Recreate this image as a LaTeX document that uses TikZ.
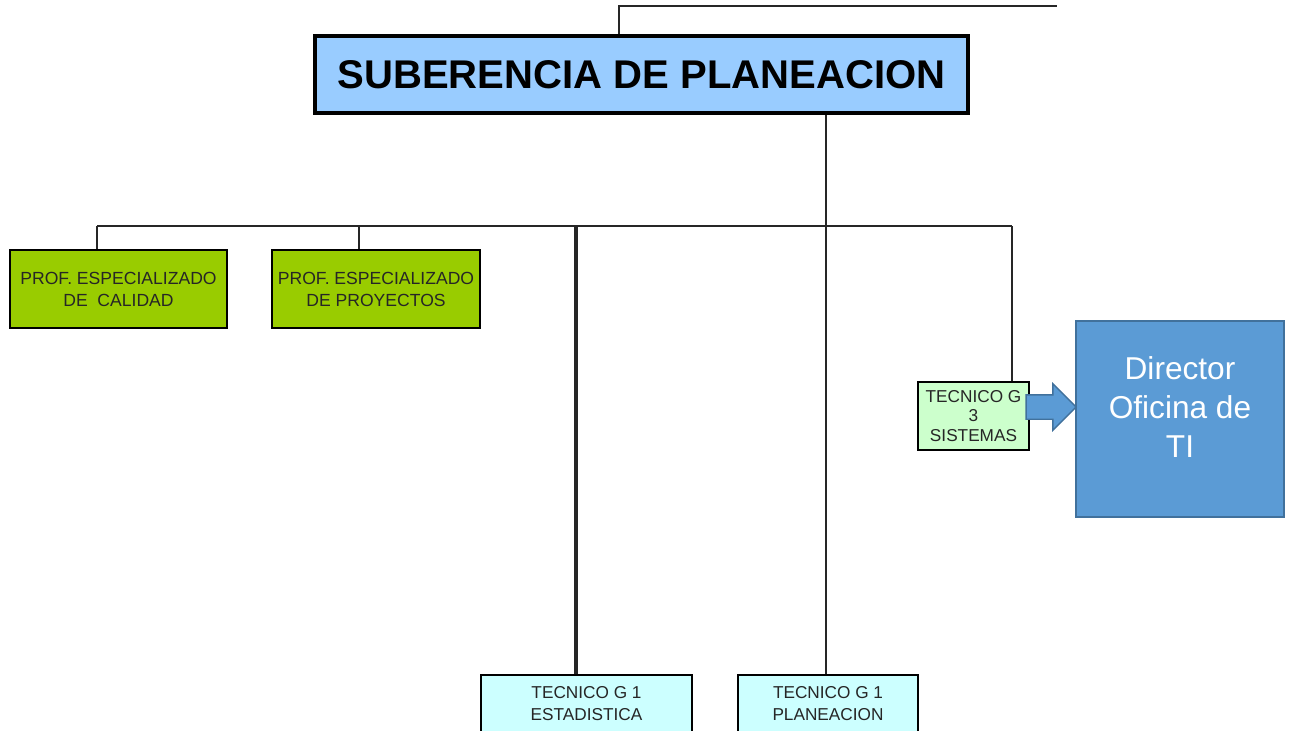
\documentclass[tikz,border=0pt]{standalone}
\usepackage{fontspec}
\setmainfont{Liberation Sans}
\usetikzlibrary{shapes.arrows}

\definecolor{jefeazul}{HTML}{99CCFF}
\definecolor{profverde}{HTML}{99CC00}
\definecolor{tecverde}{HTML}{CCFFCC}
\definecolor{teccian}{HTML}{CCFFFF}
\definecolor{diraz}{HTML}{5B9BD5}
\definecolor{dirborde}{HTML}{41719C}

\tikzset{
  jefebox/.style={draw=black, line width=2.4pt, fill=jefeazul, inner sep=0pt,
    font=\fontsize{22.8}{26}\selectfont\bfseries},
  cargobox/.style={draw=black, line width=1.3pt, inner sep=0pt, align=center,
    text=black!85, font=\fontsize{9.8}{12.5}\selectfont},
  dirbox/.style={draw=dirborde, line width=1pt, fill=diraz, inner sep=0pt},
  dirtexto/.style={text=white, align=center, inner sep=0pt, font=\fontsize{18}{22}\selectfont},
  flechabox/.style={single arrow, draw=dirborde, line width=0.8pt, fill=diraz,
    inner sep=0.23cm, single arrow head extend=0.22cm, minimum height=1cm},
  linea/.style={draw=black!85, line width=0.9pt}
}

\begin{document}
\begin{tikzpicture}[x=0.02cm, y=-0.02cm]
    \clip (0,0) rectangle (1291,730);
    \fill[white] (0,0) rectangle (1291,730);

    % Boxes
    \node[jefebox, minimum width=13.06cm, minimum height=1.54cm] (sub) at (641.5,74.5) {SUBERENCIA DE PLANEACION};
    \node[cargobox, fill=profverde, minimum width=4.34cm, minimum height=1.56cm,
      font=\fontsize{10}{12.5}\selectfont] (cal) at (118.5,289) {PROF. ESPECIALIZADO\\DE\ \ CALIDAD};
    \node[cargobox, fill=profverde, minimum width=4.16cm, minimum height=1.56cm,
      font=\fontsize{10}{12.5}\selectfont] (pro) at (376,289) {PROF. ESPECIALIZADO\\DE PROYECTOS};
    \node[cargobox, fill=teccian, minimum width=4.22cm, minimum height=1.16cm] (est) at (586.5,704) {TECNICO G 1\\ESTADISTICA};
    \node[cargobox, fill=teccian, minimum width=3.6cm, minimum height=1.16cm] (pla) at (828,704) {TECNICO G 1\\PLANEACION};
    \node[cargobox, fill=tecverde, minimum width=2.22cm, minimum height=1.36cm,
      font=\fontsize{9.8}{11.3}\selectfont] (sis) at (973.5,416) {TECNICO G\\3\\SISTEMAS};
    \node[dirbox, minimum width=4.16cm, minimum height=3.92cm] (dir) at (1180,419) {};
    \node[dirtexto] (dirtxt) at ([yshift=6.8pt]dir.center) {Director\\Oficina de\\TI};

    % Lines
    \coordinate (arriba) at (619,6);
    \coordinate (arribafin) at (1057,6);
    \draw[linea] (sub.north -| arriba) -- (arriba) -- (arribafin);

    \coordinate (k1) at (97,226);
    \coordinate (k2) at (359,226);
    \coordinate (k3) at (576,226);
    \coordinate (k4) at (826,226);
    \coordinate (k5) at (1012,226);
    \draw[linea] (k1) -- (k5);
    \draw[linea] (k1) -- (k1 |- cal.north);
    \draw[linea] (k2) -- (k2 |- pro.north);
    \draw[linea, line width=2.2pt] (k3) -- (k3 |- est.north);
    \draw[linea] (sub.south -| k4) -- (k4 |- pla.north);
    \draw[linea] (k5) -- (k5 |- sis.north);

    % Arrow
    \node[flechabox] (flecha) at (1045,407) {};
\end{tikzpicture}
\end{document}
